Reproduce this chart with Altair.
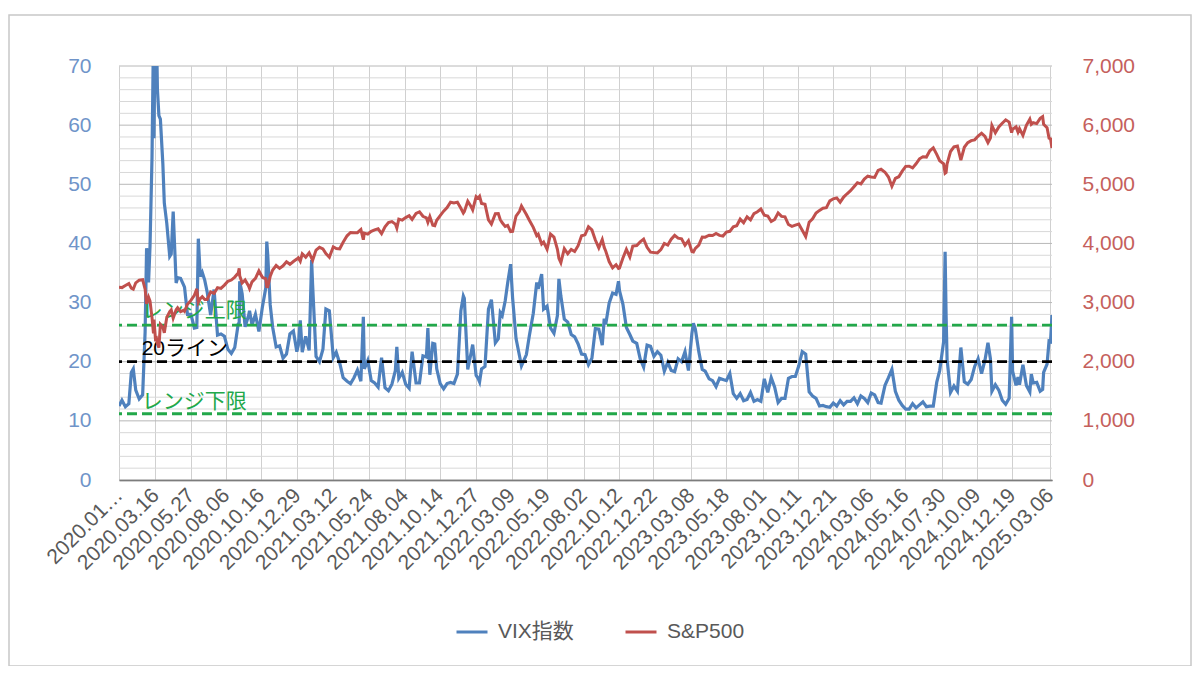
import altair as alt
import pandas as pd

# ---------------- data ----------------
dates = [
 "2020-01-02","2020-01-08","2020-01-15","2020-01-22","2020-01-27","2020-01-31","2020-02-05","2020-02-12","2020-02-19","2020-02-24",
 "2020-02-27","2020-03-02","2020-03-05","2020-03-09","2020-03-12","2020-03-13","2020-03-16","2020-03-18","2020-03-20","2020-03-23",
 "2020-03-26","2020-03-31","2020-04-03","2020-04-08","2020-04-14","2020-04-17","2020-04-21","2020-04-27","2020-04-30","2020-05-06",
 "2020-05-12","2020-05-14","2020-05-20","2020-05-27","2020-06-03","2020-06-08","2020-06-11","2020-06-15","2020-06-19","2020-06-24",
 "2020-06-29","2020-07-06","2020-07-13","2020-07-20","2020-07-27","2020-08-03","2020-08-10","2020-08-17","2020-08-24","2020-08-31",
 "2020-09-02","2020-09-03","2020-09-08","2020-09-14","2020-09-21","2020-09-23","2020-09-28","2020-10-05","2020-10-12","2020-10-19",
 "2020-10-26","2020-10-28","2020-10-30","2020-11-04","2020-11-09","2020-11-16","2020-11-23","2020-11-30","2020-12-07","2020-12-14",
 "2020-12-21","2020-12-28","2020-12-31",
 "2021-01-04","2021-01-08","2021-01-15","2021-01-22","2021-01-27","2021-01-29","2021-02-05","2021-02-12","2021-02-19","2021-02-25",
 "2021-03-04","2021-03-12","2021-03-18","2021-03-25","2021-04-01","2021-04-09","2021-04-16","2021-04-23","2021-04-30","2021-05-07",
 "2021-05-12","2021-05-14","2021-05-21","2021-05-28","2021-06-04","2021-06-11","2021-06-18","2021-06-25","2021-07-02","2021-07-09",
 "2021-07-16","2021-07-19","2021-07-23","2021-07-30","2021-08-06","2021-08-13","2021-08-19","2021-08-27","2021-09-03","2021-09-10",
 "2021-09-17","2021-09-20","2021-09-24","2021-09-30","2021-10-04","2021-10-08","2021-10-15","2021-10-22","2021-10-29","2021-11-05",
 "2021-11-12","2021-11-19","2021-11-26","2021-12-01","2021-12-03","2021-12-10","2021-12-17","2021-12-20","2021-12-27","2021-12-31",
 "2022-01-03","2022-01-07","2022-01-14","2022-01-21","2022-01-27","2022-02-04","2022-02-10","2022-02-14","2022-02-18","2022-02-24",
 "2022-03-01","2022-03-07","2022-03-11","2022-03-18","2022-03-25","2022-03-29","2022-04-08","2022-04-14","2022-04-22","2022-04-29",
 "2022-05-02","2022-05-09","2022-05-13","2022-05-20","2022-05-27","2022-06-03","2022-06-10","2022-06-13","2022-06-17","2022-06-24",
 "2022-07-01","2022-07-08","2022-07-15","2022-07-22","2022-07-29","2022-08-05","2022-08-12","2022-08-19","2022-08-26","2022-09-02",
 "2022-09-09","2022-09-13","2022-09-16","2022-09-23","2022-09-30","2022-10-07","2022-10-12","2022-10-14","2022-10-21","2022-10-28",
 "2022-11-04","2022-11-10","2022-11-18","2022-11-25","2022-12-02","2022-12-09","2022-12-16","2022-12-23","2022-12-30",
 "2023-01-06","2023-01-13","2023-01-20","2023-01-27","2023-02-03","2023-02-10","2023-02-17","2023-02-24","2023-03-03","2023-03-10",
 "2023-03-13","2023-03-17","2023-03-24","2023-03-31","2023-04-06","2023-04-14","2023-04-21","2023-04-28","2023-05-05","2023-05-12",
 "2023-05-19","2023-05-26","2023-06-02","2023-06-09","2023-06-16","2023-06-23","2023-06-30","2023-07-07","2023-07-14","2023-07-21",
 "2023-07-28","2023-08-04","2023-08-11","2023-08-18","2023-08-25","2023-09-01","2023-09-08","2023-09-15","2023-09-22","2023-09-29",
 "2023-10-06","2023-10-13","2023-10-20","2023-10-27","2023-11-03","2023-11-10","2023-11-17","2023-11-24","2023-12-01","2023-12-08",
 "2023-12-15","2023-12-22","2023-12-29",
 "2024-01-05","2024-01-12","2024-01-19","2024-01-26","2024-02-02","2024-02-09","2024-02-16","2024-02-23","2024-03-01","2024-03-08",
 "2024-03-15","2024-03-22","2024-03-28","2024-04-05","2024-04-12","2024-04-19","2024-04-26","2024-05-03","2024-05-10","2024-05-17",
 "2024-05-24","2024-05-31","2024-06-07","2024-06-14","2024-06-21","2024-06-28","2024-07-05","2024-07-12","2024-07-19","2024-07-25",
 "2024-08-02","2024-08-05","2024-08-07","2024-08-09","2024-08-16","2024-08-23","2024-08-30","2024-09-06","2024-09-13","2024-09-20",
 "2024-09-27","2024-10-04","2024-10-11","2024-10-18","2024-10-25","2024-10-31","2024-11-05","2024-11-08","2024-11-15","2024-11-22",
 "2024-11-29","2024-12-06","2024-12-13","2024-12-18","2024-12-20","2024-12-27","2024-12-31",
 "2025-01-03","2025-01-10","2025-01-17","2025-01-24","2025-01-27","2025-01-31","2025-02-07","2025-02-14","2025-02-19","2025-02-21",
 "2025-02-28","2025-03-04","2025-03-07","2025-03-10",
]

vix = [
 12.5,13.5,12.4,12.9,18.2,18.8,15.2,13.7,14.4,25.0,
 39.2,33.4,39.6,54.5,75.5,57.8,82.7,76.5,66.0,61.6,
 61.0,53.5,46.8,43.4,37.8,38.2,45.4,33.3,34.2,34.1,
 33.0,32.6,28.0,28.0,25.7,25.8,40.8,34.4,35.1,33.8,
 31.8,27.9,32.2,24.5,24.7,24.3,22.1,21.4,22.4,26.4,
 26.6,33.6,31.5,25.9,27.8,28.6,26.2,28.0,25.1,29.2,
 32.5,40.3,38.0,29.6,25.8,22.5,22.7,20.6,21.3,24.7,
 25.2,21.7,22.8,
 27.0,21.6,24.3,21.9,37.2,33.1,20.9,20.0,22.1,28.9,
 28.6,20.7,21.6,19.8,17.3,16.7,16.3,17.3,18.6,16.7,
 27.6,18.8,20.2,16.8,16.4,15.7,20.7,15.6,15.1,16.2,
 18.5,22.5,17.2,18.2,16.2,15.5,21.7,16.4,16.4,21.0,
 20.8,25.7,17.8,23.1,23.0,18.8,16.3,15.4,16.3,16.5,
 16.3,17.9,28.6,31.1,30.7,18.7,21.6,22.9,17.7,17.2,
 16.6,18.8,19.2,28.9,30.5,23.2,23.9,28.3,27.8,30.3,
 33.3,36.5,30.8,23.9,21.0,19.3,21.2,24.4,28.2,33.4,
 32.3,34.8,28.9,29.4,25.7,24.8,27.8,34.0,31.1,27.2,
 26.7,24.6,24.2,23.0,21.3,21.2,19.5,20.6,25.6,25.5,
 22.8,27.3,26.3,29.9,31.6,31.4,33.6,32.0,29.7,25.8,
 24.6,23.5,23.1,20.5,19.1,22.8,22.6,20.9,21.7,
 21.1,18.4,19.9,18.5,18.3,20.5,20.0,21.7,18.5,24.8,
 26.5,25.5,21.7,18.7,18.4,17.1,16.8,15.8,17.2,17.0,
 16.8,18.0,14.6,13.8,14.6,13.4,13.6,14.8,13.3,13.6,
 13.3,17.1,14.8,17.3,15.7,13.1,13.8,13.8,17.2,17.5,
 17.5,19.3,21.7,21.3,14.9,14.2,13.8,12.5,12.6,12.4,
 12.3,13.0,12.5,
 13.4,12.7,13.3,13.3,13.9,12.9,14.2,13.8,13.1,14.7,
 14.4,13.1,13.0,16.0,17.3,18.7,15.0,13.5,12.6,12.0,
 12.0,12.9,12.2,12.7,13.2,12.4,12.5,12.5,16.5,18.5,
 23.4,38.6,27.9,20.4,14.8,15.9,15.0,22.4,16.6,16.2,
 17.0,19.2,20.5,18.0,20.3,23.2,20.5,15.0,16.1,15.2,
 13.5,12.8,13.8,27.6,18.4,16.0,17.4,
 16.1,19.5,16.0,14.9,17.9,16.4,16.5,15.0,15.3,18.2,
 19.6,23.5,23.4,27.9,
]

spx = [
 3258,3253,3289,3321,3244,3226,3334,3379,3386,3226,
 2979,3090,3024,2747,2481,2711,2386,2398,2305,2237,
 2630,2585,2489,2750,2846,2875,2737,2878,2912,2848,
 2870,2852,2971,3036,3123,3232,3002,3066,3098,3051,
 3053,3180,3155,3251,3239,3295,3360,3381,3431,3500,
 3580,3455,3332,3383,3281,3237,3351,3409,3535,3427,
 3401,3271,3270,3444,3550,3627,3578,3622,3691,3647,
 3694,3735,3756,
 3701,3825,3768,3841,3750,3714,3887,3934,3907,3829,
 3768,3943,3915,3909,4020,4129,4185,4180,4181,4233,
 4063,4174,4156,4204,4230,4247,4166,4281,4352,4370,
 4327,4258,4412,4395,4437,4468,4406,4509,4535,4459,
 4433,4358,4455,4308,4300,4391,4471,4545,4605,4697,
 4683,4698,4595,4513,4538,4712,4620,4568,4791,4766,
 4797,4677,4663,4398,4326,4501,4504,4401,4349,4289,
 4306,4201,4204,4463,4543,4632,4488,4392,4272,4132,
 4155,3991,4024,3901,4158,4109,3901,3750,3675,3912,
 3825,3899,3863,3962,4130,4145,4280,4228,4058,3924,
 4067,3932,3873,3693,3586,3640,3577,3583,3753,3901,
 3771,3956,3965,4026,4072,3934,3852,3845,3840,
 3895,3999,3973,4071,4136,4090,4079,3970,4046,3862,
 3856,3917,3971,4109,4105,4138,4133,4169,4136,4124,
 4192,4205,4282,4299,4410,4348,4450,4399,4505,4536,
 4582,4478,4464,4370,4406,4516,4457,4450,4320,4288,
 4309,4327,4224,4117,4358,4415,4514,4559,4595,4604,
 4719,4755,4770,
 4697,4784,4840,4891,4959,5027,5006,5089,5137,5124,
 5117,5234,5254,5204,5123,4967,5100,5128,5223,5303,
 5305,5278,5347,5431,5465,5460,5567,5615,5505,5399,
 5346,5186,5199,5344,5554,5634,5648,5408,5626,5703,
 5738,5751,5815,5864,5808,5705,5782,5996,5871,5969,
 6032,6090,6051,5872,5931,5971,5882,
 5942,5827,5997,6101,6012,6041,6026,6115,6144,6013,
 5955,5779,5770,5614,
]

label_dates = [
 "2020-01-02","2020-03-16","2020-05-27","2020-08-06","2020-10-16","2020-12-29",
 "2021-03-12","2021-05-24","2021-08-04","2021-10-14","2021-12-27","2022-03-09",
 "2022-05-19","2022-08-02","2022-10-12","2022-12-22","2023-03-08","2023-05-18",
 "2023-08-01","2023-10-11","2023-12-21","2024-03-06","2024-05-16","2024-07-30",
 "2024-10-09","2024-12-19","2025-03-06",
]

vix_ticks = [0, 10, 20, 30, 40, 50, 60, 70]
vix_grid = [0, 2, 4, 6, 8, 10, 12, 14, 16, 18, 20, 22, 24, 26, 28, 30, 32, 34,
            36, 38, 40, 42, 44, 46, 48, 50, 52, 54, 56, 58, 60, 62, 64, 66, 68, 70]
spx_ticks = [0, 1000, 2000, 3000, 4000, 5000, 6000, 7000]

ref_levels = [26.2, 20.0, 11.2]
ref_names = ["レンジ上限", "20ライン", "レンジ下限"]
ref_colors = ["#22a84a", "#000000", "#22a84a"]
ref_text_y = [28.6, 22.2, 13.2]
ref_text_date = ["2020-02-17", "2020-02-17", "2020-02-17"]

series_names = ["VIX指数", "S&P500"]
series_colors = ["#4f81bd", "#c0504d"]

# ---------------- build ----------------
FONT = "Liberation Sans, Arial, Noto Sans CJK JP, sans-serif"
JFONT = "Liberation Sans, Noto Sans CJK JP, sans-serif"

def ms(d):
    return int(pd.Timestamp(d, tz="UTC").value // 10**6)

df = pd.DataFrame({"date": dates, "vix": vix, "spx": spx})
refs = pd.DataFrame({"level": ref_levels, "name": ref_names, "color": ref_colors,
                     "ty": ref_text_y, "tdate": ref_text_date})
grid_df = pd.DataFrame({"g": vix_grid})
grid_df["major"] = grid_df["g"] % 10 == 0

x_dom = [ms(dates[0]), ms(dates[-1])]
x_vals = [ms(d) for d in label_dates]
first = x_vals[0]

x_enc = alt.X(
    "date:T",
    scale=alt.Scale(type="utc", domain=x_dom, nice=False),
    axis=alt.Axis(
        values=x_vals, tickCount=200,
        labelExpr=f"datum.value <= {first} ? '2020.01…' : utcFormat(datum.value, '%Y.%m.%d')",
        labelAngle=-45, labelAlign="right", labelBaseline="middle",
        labelFontSize=21, labelColor="#595959", labelFont=FONT, labelPadding=12,
        labelOverlap=False, labelBound=False, labelFlush=False,
        ticks=False, domainColor="#404040", domainWidth=1.5,
        grid=True, gridColor="#d0d0d0", gridWidth=1, title=None,
    ),
)

color_scale = alt.Scale(domain=series_names, range=series_colors)
legend = alt.Legend(
    title=None, orient="none", direction="horizontal", legendX=336, legendY=549,
    symbolType="stroke", symbolSize=961, symbolStrokeWidth=3,
    labelFontSize=21, labelColor="#595959", labelFont=JFONT,
    labelOffset=9, columnPadding=45,
)

vix_y = alt.Y(
    "vix:Q",
    scale=alt.Scale(domain=[0, 70], nice=False, zero=True),
    axis=alt.Axis(
        orient="left", values=vix_ticks, tickCount=100, labelOverlap=False, format="d",
        labelFontSize=21, labelColor="#6f94c9", labelFont=FONT, labelPadding=28,
        ticks=False, domain=False, grid=False, title=None,
    ),
)

hgrid = alt.Chart(grid_df).mark_rule(strokeWidth=1).encode(
    y=alt.Y("g:Q"),
    color=alt.condition("datum.major", alt.value("#b8b8b8"), alt.value("#d8d8d8")),
)

vix_line = alt.Chart(df).mark_line(strokeWidth=3.2, clip=True).encode(
    x=x_enc,
    y=vix_y,
    color=alt.Color("s:N", scale=color_scale, legend=legend),
).transform_calculate(s="'VIX指数'")

rules = alt.Chart(refs).mark_rule(strokeWidth=2.8, strokeDash=[10, 5]).encode(
    y=alt.Y("level:Q"),
    color=alt.Color("color:N", scale=None),
)

texts = alt.Chart(refs).mark_text(align="left", baseline="middle", fontSize=21, font=JFONT).encode(
    x=alt.X("tdate:T"),
    y=alt.Y("ty:Q"),
    text="name:N",
    color=alt.Color("color:N", scale=None),
)

spx_line = alt.Chart(df).mark_line(strokeWidth=3, clip=True).encode(
    x=alt.X("date:T"),
    y=alt.Y(
        "spx:Q",
        scale=alt.Scale(domain=[0, 7000], nice=False),
        axis=alt.Axis(
            orient="right", values=spx_ticks, tickCount=100, format=",d", labelOverlap=False,
            labelFontSize=21, labelColor="#c5605c", labelFont=FONT, labelPadding=30,
            ticks=False, domain=False, grid=False, title=None,
        ),
    ),
    color=alt.Color("s:N", scale=color_scale, legend=legend),
).transform_calculate(s="'S&P500'")

border = alt.Chart(alt.Data(values=[{"a": 1}])).mark_rect(
    fill=None, stroke="#c8c8c8", strokeWidth=1.5
).encode(
    x=alt.value(-110), x2=alt.value(1072), y=alt.value(-51), y2=alt.value(600)
)

left_group = alt.layer(hgrid, vix_line, rules, texts)

chart = alt.layer(border, left_group, spx_line).resolve_scale(
    y="independent"
).properties(
    width=933, height=414,
    padding={"left": 111, "top": 58, "right": 140, "bottom": 186},
    autosize=alt.AutoSizeParams(type="none"),
    background="white",
).configure_view(stroke=None)

chart.save("out.html", embed_options={"renderer": "svg", "actions": False})
